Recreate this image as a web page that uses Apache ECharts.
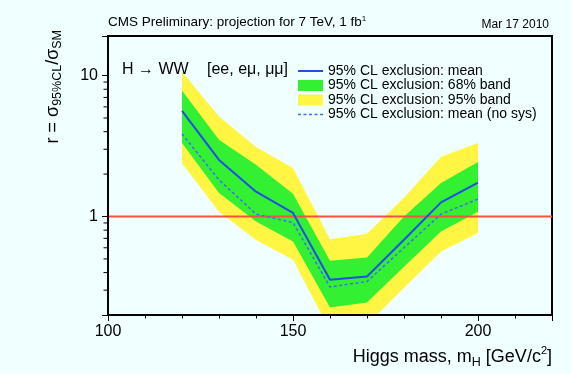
<!DOCTYPE html>
<html><head><meta charset="utf-8">
<script src="https://cdn.jsdelivr.net/npm/echarts@6/dist/echarts.min.js"></script>
<style>html,body{margin:0;padding:0;background:#F0FFFF}#c{width:571px;height:374px}</style>
</head><body><div id="c"></div>
<script>
// ---- data ----
const masses      = [120, 130, 140, 150, 160, 170, 180, 190, 200];
const meanLimit   = [5.62, 2.52, 1.50, 1.06, 0.356, 0.375, 0.684, 1.26, 1.74];
const meanNoSys   = [3.86, 1.82, 1.04, 0.906, 0.316, 0.346, 0.600, 1.04, 1.33];
const band68Low   = [3.32, 1.47, 0.92, 0.665, 0.226, 0.245, 0.440, 0.783, 1.08];
const band68High  = [7.83, 3.50, 2.33, 1.45, 0.485, 0.512, 1.00, 1.73, 2.44];
const band95Low   = [2.39, 1.08, 0.68, 0.493, 0.155, 0.171, 0.312, 0.565, 0.763];
const band95High  = [10.67, 5.12, 3.12, 2.21, 0.691, 0.754, 1.36, 2.65, 3.33];
const smLevel     = 1;
const yMinorTicks = [0.3, 0.4, 0.5, 0.6, 0.7, 0.8, 0.9, 2, 3, 4, 5, 6, 7, 8, 9];
const legendNames = ['95% CL exclusion: mean', '95% CL exclusion: 68% band',
                     '95% CL exclusion: 95% band', '95% CL exclusion: mean (no sys)'];

const FONT = '"Liberation Sans", Arial, Helvetica, sans-serif';
const BG = '#F0FFFF', GREEN = '#33F033', YELLOW = '#FFF542', BLUE = '#1E4FE8', BLUE2 = '#3C6EF0', RED = '#F5533F';
const XMIN = 100, XMAX = 220, YMIN = 0.2, YMAX = 19.1;

const pairs = arr => masses.map((m, i) => [m, arr[i]]);
const isPow10 = v => Math.abs(Math.log10(v) - Math.round(Math.log10(v))) < 1e-6;

const chart = echarts.init(document.getElementById('c'));
const solidIcon = 'path://M0,0L25,0L25,2L0,2Z';
const dashIcon = 'path://M0,0h3v1.6h-3zM5.5,0h3v1.6h-3zM11,0h3v1.6h-3zM16.5,0h3v1.6h-3zM22,0h3v1.6h-3z';

function area(name, arr, color, z) {
  return {name: name, type: 'line', data: pairs(arr), symbol: 'none', color: color, itemStyle: {color: color},
    lineStyle: {width: 0, opacity: 0}, areaStyle: {color: color, opacity: 1, origin: 'start'}, z: z, silent: true};
}
function txt(x, y, text, size, extra) {
  return {type: 'text', x: x, y: y, z: 100, style: Object.assign({text: text, fill: '#000', fontSize: size, fontFamily: FONT}, extra || {})};
}

chart.setOption({
  backgroundColor: BG,
  animation: false,
  textStyle: {fontFamily: FONT},
  grid: {left: 108, top: 36, right: 19, bottom: 59, show: true, borderColor: '#000', borderWidth: 2, backgroundColor: BG},
  xAxis: [
    {type: 'value', min: XMIN, max: XMAX, interval: 10, position: 'bottom', z: 10,
     splitLine: {show: false},
     axisLine: {show: true, onZero: false, lineStyle: {color: '#000', width: 2}},
     axisTick: {show: true, length: 3.5, lineStyle: {color: '#000', width: 1}},
     axisLabel: {show: true, fontSize: 16, color: '#000', margin: 9, fontFamily: FONT,
                 formatter: v => (v % 50 === 0 && v < XMAX) ? String(v) : ''}},
    {type: 'value', min: XMIN, max: XMAX, interval: 50, position: 'bottom',
     splitLine: {show: false},
     axisLine: {show: false, onZero: false},
     axisTick: {show: true, length: 6, lineStyle: {color: '#000', width: 1}},
     axisLabel: {show: false}}
  ],
  yAxis: [
    {type: 'log', logBase: 10, min: YMIN, max: YMAX, position: 'left', z: 10,
     splitLine: {show: false}, minorTick: {show: false},
     axisLine: {show: true, onZero: false, lineStyle: {color: '#000', width: 2}},
     axisTick: {show: true, length: 6, lineStyle: {color: '#000', width: 1}},
     axisLabel: {show: true, fontSize: 16, color: '#000', margin: 10, fontFamily: FONT,
                 formatter: v => isPow10(v) ? String(Math.round(v)) : ''}}
  ],
  legend: {
    left: 298, top: 64, padding: 0, orient: 'vertical', itemWidth: 25, itemHeight: 11, itemGap: 0.5,
    symbolKeepAspect: true, selectedMode: false,
    textStyle: {fontSize: 14, color: '#000', fontFamily: FONT, lineHeight: 14},
    data: [
      {name: legendNames[0], icon: solidIcon},
      {name: legendNames[1], icon: 'rect'},
      {name: legendNames[2], icon: 'rect'},
      {name: legendNames[3], icon: dashIcon}
    ]
  },
  series: [
    area(legendNames[2], band95High, YELLOW, 1),
    area(legendNames[1], band68High, GREEN, 1),
    area('band95 inner', band68Low, YELLOW, 1),
    area('below band', band95Low, BG, 1),
    {name: 'SM', type: 'line', data: [[XMIN, smLevel], [XMAX, smLevel]], symbol: 'none', silent: true,
     lineStyle: {color: RED, width: 2}, z: 3},
    {name: legendNames[3], type: 'line', data: pairs(meanNoSys), symbol: 'none', color: BLUE2,
     itemStyle: {color: BLUE2}, lineStyle: {color: BLUE2, width: 1.5, type: [3, 2.5]}, z: 4},
    {name: legendNames[0], type: 'line', data: pairs(meanLimit), symbol: 'none', color: BLUE,
     itemStyle: {color: BLUE}, lineStyle: {color: BLUE, width: 2}, z: 5},
    {name: 'minor y ticks', type: 'custom', clip: false, silent: true, z: 10,
     data: yMinorTicks.map(v => [XMIN, v]),
     renderItem: (params, api) => {
       const p = api.coord([api.value(0), api.value(1)]);
       return {type: 'line', shape: {x1: p[0] - 4.5, y1: p[1], x2: p[0] - 1, y2: p[1]},
               style: {stroke: '#000', lineWidth: 1}};
     }}
  ],
  graphic: [
    txt(108, 15, 'CMS Preliminary: projection for 7 TeV, 1 fb{sup|1}', 13.5,
        {rich: {sup: {fontSize: 8, verticalAlign: 'top', fill: '#000', fontFamily: FONT}}}),
    txt(549, 19, 'Mar 17 2010', 12, {textAlign: 'right'}),
    txt(122, 62, 'H \u2192 WW', 16),
    txt(207, 62, '[ee, e\u03bc, \u03bc\u03bc]', 16),
    txt(552, 346, 'Higgs mass, m{sub|H} [GeV/c{sup|2}]', 18, {textAlign: 'right',
      rich: {
        sub: {fontSize: 12.5, fontFamily: FONT, verticalAlign: 'top', padding: [10, 0, 0, 0]},
        sup: {fontSize: 11, fontFamily: FONT, verticalAlign: 'top', padding: [-1, 0, 0, 0]}
      }}),
    Object.assign(txt(42, 30, 'r = \u03c3{sub|95%CL}/\u03c3{sub|SM}', 18, {textAlign: 'right', textVerticalAlign: 'top',
      rich: {sub: {fontSize: 12.5, fontFamily: FONT, verticalAlign: 'top', padding: [9, 0, 0, 0]}}}),
      {rotation: Math.PI / 2})
  ]
});
</script></body></html>
